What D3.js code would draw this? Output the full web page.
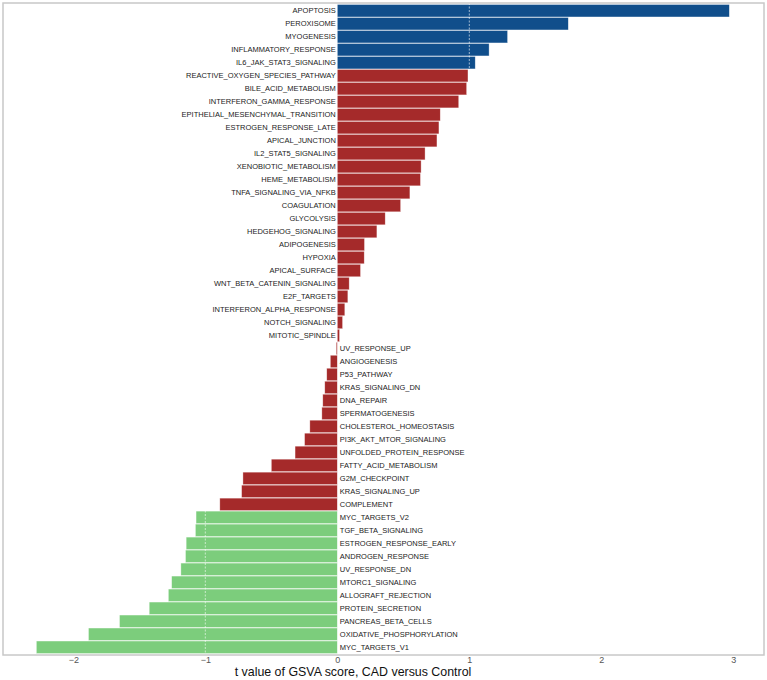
<!DOCTYPE html>
<html>
<head>
<meta charset="utf-8">
<script src="https://cdn.jsdelivr.net/npm/d3@7"></script>
<style>
  body { margin: 0; background: #fff; }
  text { font-family: "Liberation Sans", Arial, sans-serif; }
</style>
</head>
<body>
<svg id="chart" width="767" height="680"></svg>
<script>
// pathways, top to bottom
const pathways = [
  'APOPTOSIS', 'PEROXISOME', 'MYOGENESIS', 'INFLAMMATORY_RESPONSE', 'IL6_JAK_STAT3_SIGNALING',
  'REACTIVE_OXYGEN_SPECIES_PATHWAY', 'BILE_ACID_METABOLISM', 'INTERFERON_GAMMA_RESPONSE',
  'EPITHELIAL_MESENCHYMAL_TRANSITION', 'ESTROGEN_RESPONSE_LATE', 'APICAL_JUNCTION',
  'IL2_STAT5_SIGNALING', 'XENOBIOTIC_METABOLISM', 'HEME_METABOLISM', 'TNFA_SIGNALING_VIA_NFKB',
  'COAGULATION', 'GLYCOLYSIS', 'HEDGEHOG_SIGNALING', 'ADIPOGENESIS', 'HYPOXIA', 'APICAL_SURFACE',
  'WNT_BETA_CATENIN_SIGNALING', 'E2F_TARGETS', 'INTERFERON_ALPHA_RESPONSE', 'NOTCH_SIGNALING',
  'MITOTIC_SPINDLE', 'UV_RESPONSE_UP', 'ANGIOGENESIS', 'P53_PATHWAY', 'KRAS_SIGNALING_DN',
  'DNA_REPAIR', 'SPERMATOGENESIS', 'CHOLESTEROL_HOMEOSTASIS', 'PI3K_AKT_MTOR_SIGNALING',
  'UNFOLDED_PROTEIN_RESPONSE', 'FATTY_ACID_METABOLISM', 'G2M_CHECKPOINT', 'KRAS_SIGNALING_UP',
  'COMPLEMENT', 'MYC_TARGETS_V2', 'TGF_BETA_SIGNALING', 'ESTROGEN_RESPONSE_EARLY',
  'ANDROGEN_RESPONSE', 'UV_RESPONSE_DN', 'MTORC1_SIGNALING', 'ALLOGRAFT_REJECTION',
  'PROTEIN_SECRETION', 'PANCREAS_BETA_CELLS', 'OXIDATIVE_PHOSPHORYLATION', 'MYC_TARGETS_V1'
];
const tValues = [
  2.97, 1.75, 1.29, 1.15, 1.045,
  0.99, 0.98, 0.92,
  0.78, 0.77, 0.755,
  0.665, 0.635, 0.63, 0.55,
  0.48, 0.363, 0.30, 0.206, 0.204, 0.176,
  0.09, 0.08, 0.057, 0.04,
  0.017, -0.008, -0.053, -0.08, -0.095,
  -0.11, -0.117, -0.208, -0.248,
  -0.32, -0.50, -0.715, -0.725,
  -0.89, -1.07, -1.075, -1.145,
  -1.15, -1.185, -1.255, -1.28,
  -1.425, -1.65, -1.885, -2.28
];
const xTicks = [-2, -1, 0, 1, 2, 3];
const cutoffs = [-1, 1];

const data = pathways.map((p, i) => ({name: p, t: tValues[i]}));

const panel = {left: 3, right: 764, top: 3, bottom: 655};
const svg = d3.select('#chart');

const x = d3.scaleLinear().domain([0, 3]).range([337.3, 733.3]);
const y = d3.scaleBand()
  .domain(pathways)
  .range([panel.top + 1.5, panel.bottom - 1.5])
  .paddingInner(0.04);

function colour(v) {
  if (v > 1) return '#104E8B';
  if (v < -1) return '#7CCD7C';
  return '#A52A2A';
}

//bars
svg.append('g').selectAll('rect')
  .data(data)
  .enter()
  .append('rect')
  .attr('x', d => Math.min(x(0), x(d.t)))
  .attr('y', d => y(d.name))
  .attr('width', d => Math.abs(x(d.t) - x(0)))
  .attr('height', y.bandwidth())
  .attr('fill', d => colour(d.t))
  .attr('stroke', '#fff')
  .attr('stroke-opacity', 0.6)
  .attr('stroke-width', 0.6);

//dashed cutoff lines
svg.append('g').selectAll('line')
  .data(cutoffs)
  .enter()
  .append('line')
  .attr('x1', d => x(d))
  .attr('x2', d => x(d))
  .attr('y1', panel.top)
  .attr('y2', panel.bottom)
  .attr('stroke', '#fff')
  .attr('stroke-width', 0.6)
  .attr('stroke-dasharray', '2,1.5');

//labels beside zero
svg.append('g').selectAll('text')
  .data(data)
  .enter()
  .append('text')
  .attr('x', d => d.t >= 0 ? x(0) - 1.5 : x(0) + 2.5)
  .attr('y', d => y(d.name) + y.bandwidth() / 2)
  .attr('dy', '0.35em')
  .attr('text-anchor', d => d.t >= 0 ? 'end' : 'start')
  .attr('font-size', 7.5)
  .attr('fill', '#222')
  .text(d => d.name);

//panel border
svg.append('rect')
  .attr('x', panel.left)
  .attr('y', panel.top)
  .attr('width', panel.right - panel.left)
  .attr('height', panel.bottom - panel.top)
  .attr('fill', 'none')
  .attr('stroke', '#c8c8c8')
  .attr('stroke-width', 1.5);

//axis
const axis = svg.append('g')
  .attr('transform', `translate(0,${panel.bottom})`)
  .call(d3.axisBottom(x).tickValues(xTicks).tickSize(0).tickPadding(2).tickFormat(d3.format('d')));
axis.select('.domain').remove();
axis.selectAll('.tick text')
  .attr('font-size', 9)
  .attr('fill', '#555')
  .attr('font-family', '"Liberation Sans", Arial, sans-serif');

svg.append('text')
  .attr('x', 353)
  .attr('y', 676)
  .attr('text-anchor', 'middle')
  .attr('font-size', 12.4)
  .attr('fill', '#111')
  .text('t value of GSVA score, CAD versus Control');
</script>
</body>
</html>
